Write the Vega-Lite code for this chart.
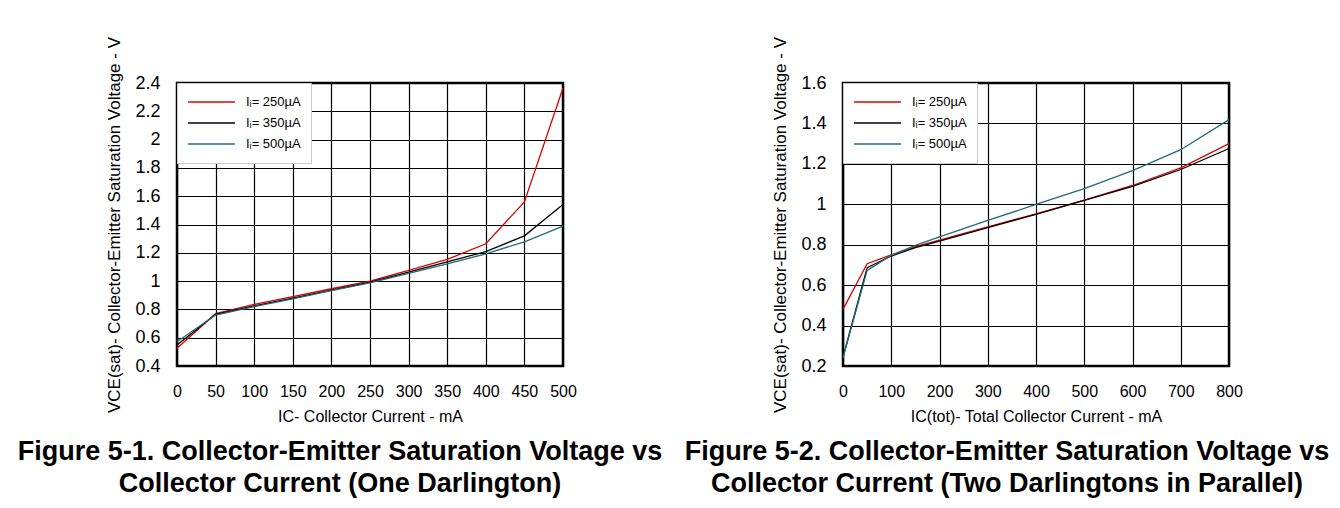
{
  "$schema": "https://vega.github.io/schema/vega-lite/v6.json",
  "background": "white",
  "padding": {"left": 16, "top": 35, "right": 5, "bottom": 0},
  "config": {
    "font": "Liberation Sans",
    "view": {"stroke": "black", "strokeWidth": 2.5},
    "axis": {
      "grid": true, "gridColor": "black", "gridWidth": 1.2, "gridOpacity": 1,
      "ticks": false, "domain": false, "labelOverlap": false, "labelFlush": false,
      "labelFont": "Liberation Sans", "labelColor": "black",
      "titleFont": "Liberation Sans", "titleFontWeight": "normal", "titleColor": "black"
    },
    "axisX": {"labelFontSize": 16, "labelPadding": 17, "titleFontSize": 16, "titlePadding": 9},
    "axisY": {"labelFontSize": 18, "labelPadding": 17, "titleFontSize": 17, "titlePadding": 11},
    "legend": {
      "orient": "none", "legendX": 0, "legendY": 0,
      "fillColor": "white", "strokeColor": "#cccccc", "padding": 10,
      "symbolType": "stroke", "symbolSize": 2200, "symbolStrokeWidth": 1.5,
      "labelFont": "Liberation Sans", "labelFontSize": 13, "labelColor": "black",
      "labelOffset": 10, "clipHeight": 18, "rowPadding": 3, "title": null
    },
    "title": {
      "orient": "bottom", "anchor": "middle", "frame": "group",
      "font": "Liberation Sans", "fontSize": 27, "fontWeight": "bold", "color": "black",
      "lineHeight": 32, "offset": 15
    },
    "concat": {"spacing": 19}
  },
  "datasets": {
    "one": [
      {"current": 0, "voltage": 0.525, "series": "250"},
      {"current": 50, "voltage": 0.77, "series": "250"},
      {"current": 100, "voltage": 0.835, "series": "250"},
      {"current": 150, "voltage": 0.89, "series": "250"},
      {"current": 200, "voltage": 0.946, "series": "250"},
      {"current": 250, "voltage": 1.0, "series": "250"},
      {"current": 300, "voltage": 1.075, "series": "250"},
      {"current": 350, "voltage": 1.153, "series": "250"},
      {"current": 400, "voltage": 1.264, "series": "250"},
      {"current": 450, "voltage": 1.56, "series": "250"},
      {"current": 500, "voltage": 2.365, "series": "250"},
      {"current": 0, "voltage": 0.548, "series": "350"},
      {"current": 50, "voltage": 0.765, "series": "350"},
      {"current": 100, "voltage": 0.825, "series": "350"},
      {"current": 150, "voltage": 0.88, "series": "350"},
      {"current": 200, "voltage": 0.937, "series": "350"},
      {"current": 250, "voltage": 0.993, "series": "350"},
      {"current": 300, "voltage": 1.064, "series": "350"},
      {"current": 350, "voltage": 1.136, "series": "350"},
      {"current": 400, "voltage": 1.209, "series": "350"},
      {"current": 450, "voltage": 1.32, "series": "350"},
      {"current": 500, "voltage": 1.541, "series": "350"},
      {"current": 0, "voltage": 0.572, "series": "500"},
      {"current": 50, "voltage": 0.76, "series": "500"},
      {"current": 100, "voltage": 0.82, "series": "500"},
      {"current": 150, "voltage": 0.874, "series": "500"},
      {"current": 200, "voltage": 0.932, "series": "500"},
      {"current": 250, "voltage": 0.988, "series": "500"},
      {"current": 300, "voltage": 1.054, "series": "500"},
      {"current": 350, "voltage": 1.122, "series": "500"},
      {"current": 400, "voltage": 1.193, "series": "500"},
      {"current": 450, "voltage": 1.278, "series": "500"},
      {"current": 500, "voltage": 1.388, "series": "500"}
    ],
    "two": [
      {"current": 0, "voltage": 0.48, "series": "250"},
      {"current": 50, "voltage": 0.706, "series": "250"},
      {"current": 100, "voltage": 0.75, "series": "250"},
      {"current": 150, "voltage": 0.79, "series": "250"},
      {"current": 200, "voltage": 0.823, "series": "250"},
      {"current": 300, "voltage": 0.888, "series": "250"},
      {"current": 400, "voltage": 0.953, "series": "250"},
      {"current": 500, "voltage": 1.02, "series": "250"},
      {"current": 600, "voltage": 1.093, "series": "250"},
      {"current": 700, "voltage": 1.18, "series": "250"},
      {"current": 800, "voltage": 1.3, "series": "250"},
      {"current": 0, "voltage": 0.244, "series": "350"},
      {"current": 50, "voltage": 0.686, "series": "350"},
      {"current": 100, "voltage": 0.744, "series": "350"},
      {"current": 150, "voltage": 0.785, "series": "350"},
      {"current": 200, "voltage": 0.818, "series": "350"},
      {"current": 300, "voltage": 0.885, "series": "350"},
      {"current": 400, "voltage": 0.95, "series": "350"},
      {"current": 500, "voltage": 1.019, "series": "350"},
      {"current": 600, "voltage": 1.089, "series": "350"},
      {"current": 700, "voltage": 1.172, "series": "350"},
      {"current": 800, "voltage": 1.276, "series": "350"},
      {"current": 0, "voltage": 0.241, "series": "500"},
      {"current": 50, "voltage": 0.673, "series": "500"},
      {"current": 100, "voltage": 0.747, "series": "500"},
      {"current": 150, "voltage": 0.797, "series": "500"},
      {"current": 200, "voltage": 0.839, "series": "500"},
      {"current": 300, "voltage": 0.92, "series": "500"},
      {"current": 400, "voltage": 0.999, "series": "500"},
      {"current": 500, "voltage": 1.078, "series": "500"},
      {"current": 600, "voltage": 1.167, "series": "500"},
      {"current": 700, "voltage": 1.27, "series": "500"},
      {"current": 800, "voltage": 1.419, "series": "500"}
    ]
  },
  "hconcat": [
    {
      "width": 386,
      "height": 283,
      "title": {"text": ["Figure 5-1. Collector-Emitter Saturation Voltage vs", "Collector Current (One Darlington)"], "dx": -30},
      "data": {"name": "one"},
      "mark": {"type": "line", "strokeWidth": 1.3},
      "encoding": {
        "x": {
          "field": "current", "type": "quantitative",
          "scale": {"domain": [0, 500], "nice": false},
          "axis": {"values": [0, 50, 100, 150, 200, 250, 300, 350, 400, 450, 500], "title": "IC- Collector Current - mA"}
        },
        "y": {
          "field": "voltage", "type": "quantitative",
          "scale": {"domain": [0.4, 2.4], "nice": false, "zero": false},
          "axis": {"values": [0.4, 0.6, 0.8, 1, 1.2, 1.4, 1.6, 1.8, 2, 2.2, 2.4], "format": "~g", "title": "VCE(sat)- Collector-Emitter Saturation Voltage - V"}
        },
        "color": {
          "field": "series", "type": "nominal",
          "scale": {"domain": ["250", "350", "500"], "range": ["#e00000", "#000000", "#1f6b7b"]},
          "legend": {"labelExpr": "'Iᵢ= ' + datum.label + 'µA'"}
        }
      }
    },
    {
      "width": 386,
      "height": 283,
      "title": {"text": ["Figure 5-2. Collector-Emitter Saturation Voltage vs", "Collector Current (Two Darlingtons in Parallel)"], "dx": -29},
      "data": {"name": "two"},
      "mark": {"type": "line", "strokeWidth": 1.3},
      "encoding": {
        "x": {
          "field": "current", "type": "quantitative",
          "scale": {"domain": [0, 800], "nice": false},
          "axis": {"values": [0, 100, 200, 300, 400, 500, 600, 700, 800], "title": "IC(tot)- Total Collector Current - mA"}
        },
        "y": {
          "field": "voltage", "type": "quantitative",
          "scale": {"domain": [0.2, 1.6], "nice": false, "zero": false},
          "axis": {"values": [0.2, 0.4, 0.6, 0.8, 1, 1.2, 1.4, 1.6], "format": "~g", "title": "VCE(sat)- Collector-Emitter Saturation Voltage - V"}
        },
        "color": {
          "field": "series", "type": "nominal",
          "scale": {"domain": ["250", "350", "500"], "range": ["#e00000", "#000000", "#1f6b7b"]},
          "legend": {"labelExpr": "'Iᵢ= ' + datum.label + 'µA'"}
        }
      }
    }
  ],
  "resolve": {"scale": {"color": "independent"}, "legend": {"color": "independent"}}
}
